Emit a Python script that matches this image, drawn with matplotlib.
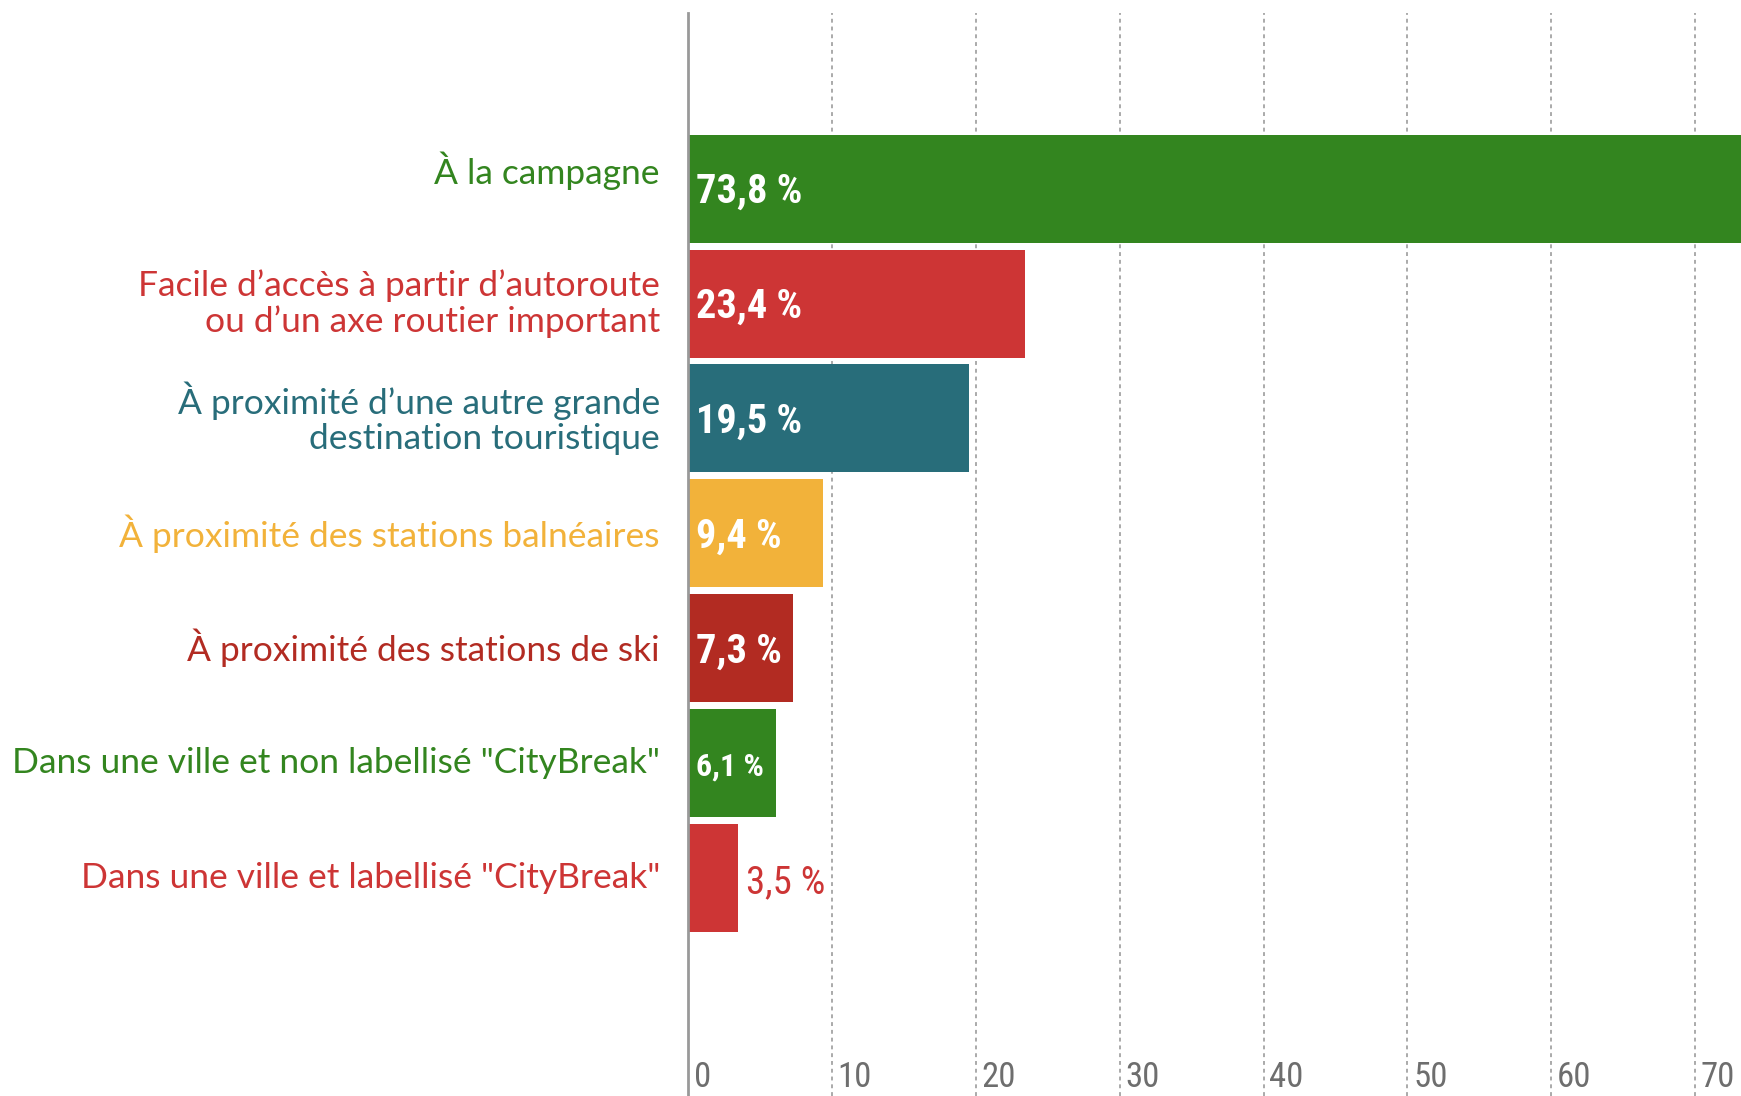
import matplotlib.pyplot as plt

categories = [
    "À la campagne",
    "Facile d’accès à partir d’autoroute\nou d’un axe routier important",
    "À proximité d’une autre grande\ndestination touristique",
    "À proximité des stations balnéaires",
    "À proximité des stations de ski",
    "Dans une ville et non labellisé \"CityBreak\"",
    "Dans une ville et labellisé \"CityBreak\"",
]
values = [73.8, 23.4, 19.5, 9.4, 7.3, 6.1, 3.5]
colors = ["#33851f", "#cd3535", "#286d7a", "#f2b23a", "#b22b22", "#33851f", "#cd3535"]
ticks = [0, 10, 20, 30, 40, 50, 60, 70]

narrow = ["Roboto Condensed", "Roboto", "DejaVu Sans"]
plt.rcParams["font.family"] = ["Lato", "DejaVu Sans"]

fig = plt.figure(figsize=(17.41, 10.96), dpi=100)
ax = fig.add_axes([688 / 1741, 0, 1 - 688 / 1741, 1 - 13 / 1096])

y = list(range(len(values)))
ax.barh(y, values, height=0.94, color=colors, zorder=2)

ax.set_xlim(0, 73.18)
ax.set_ylim(7.9, -1.53)

ax.set_xticks(ticks)
ax.set_xticklabels([])
ax.tick_params(axis="both", length=0)
ax.set_yticks([])
ax.grid(axis="x", color="#aaaaaa", linestyle=(0, (2, 2)), linewidth=1.4, zorder=0)

for s in ["top", "right", "bottom"]:
    ax.spines[s].set_visible(False)
ax.spines["left"].set_color("#999999")
ax.spines["left"].set_linewidth(2)
ax.spines["left"].set_zorder(3)

# tick labels sit inside the plot, at the bottom, right of each grid line
for t in ticks:
    ax.text(t + 0.4, 0.008, str(t), transform=ax.get_xaxis_transform(),
            ha="left", va="baseline", fontsize=25, color="#6e6e6e", family=narrow)

# category labels at the left (first one sits a bit high in the original)
for i, (lab, c) in enumerate(zip(categories, colors)):
    dy = -0.16 if i == 0 else 0
    ax.text(-1.95, i + dy, lab, ha="right", va="center", fontsize=25.5, color=c,
            linespacing=1.12, clip_on=False)

# value labels
for i, v in enumerate(values):
    txt = f"{v:.1f} %".replace(".", ",")
    if v < 5:
        ax.text(v + 0.55, i + 0.04, txt, ha="left", va="center", fontsize=28,
                color=colors[i], family=narrow)
    else:
        size = 29 if v > 7 else 23
        ax.text(0.55, i + 0.03, txt, ha="left", va="center", fontsize=size,
                color="white", fontweight="bold", family=narrow, zorder=4)

plt.savefig("out.png", dpi=100)
plt.close()
